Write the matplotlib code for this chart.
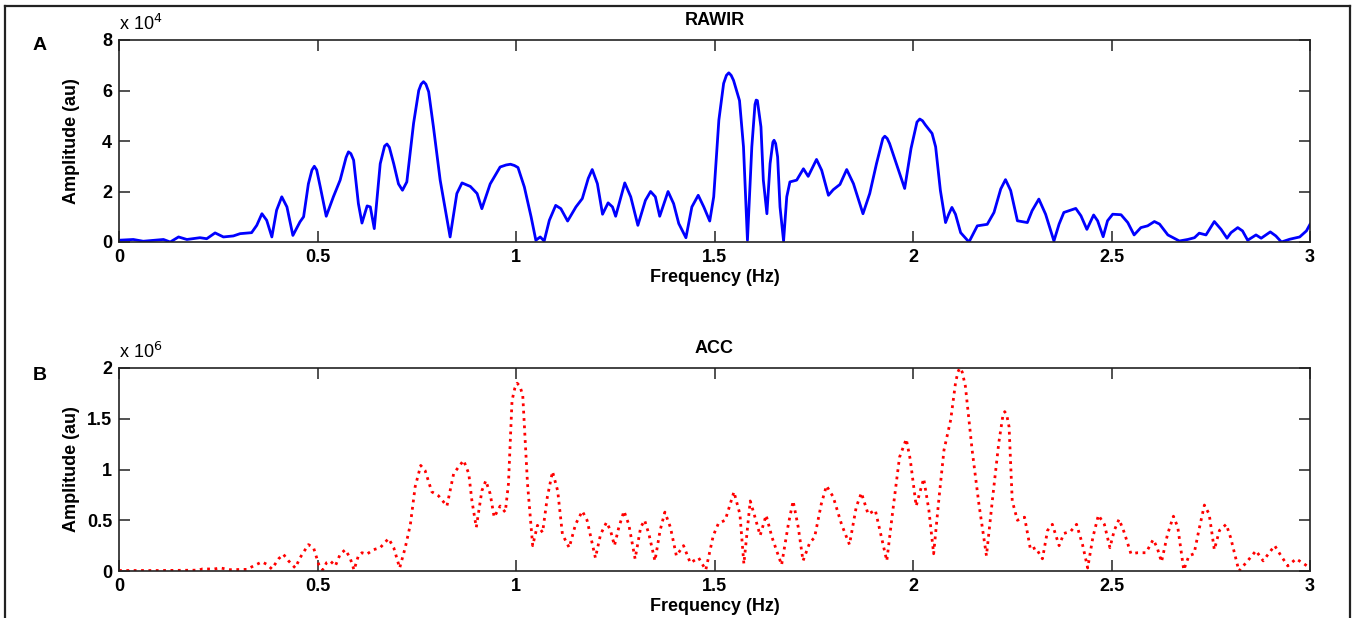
import matplotlib
matplotlib.use("Agg")
import matplotlib.pyplot as plt
from matplotlib.lines import Line2D

plt.rcParams['font.family'] = ['Liberation Sans', 'DejaVu Sans']

# RAWIR spectrum (frequency in Hz, amplitude in units of 1e4)
rawir_freq = [
    0.0, 0.036, 0.061, 0.112, 0.129, 0.15, 0.171, 0.204, 0.221, 0.242,
    0.263, 0.288, 0.305, 0.334, 0.347, 0.36, 0.372, 0.385, 0.397, 0.41,
    0.423, 0.438, 0.456, 0.465, 0.477, 0.486, 0.492, 0.498, 0.507, 0.522,
    0.54, 0.557, 0.572, 0.578, 0.584, 0.591, 0.603, 0.612, 0.625, 0.633,
    0.643, 0.658, 0.669, 0.675, 0.681, 0.692, 0.704, 0.714, 0.725, 0.742,
    0.755, 0.761, 0.767, 0.773, 0.78, 0.792, 0.809, 0.834, 0.851, 0.864,
    0.885, 0.902, 0.914, 0.935, 0.96, 0.975, 0.986, 0.996, 1.005, 1.021,
    1.038, 1.05, 1.061, 1.071, 1.084, 1.1, 1.113, 1.13, 1.151, 1.167,
    1.182, 1.192, 1.205, 1.218, 1.232, 1.243, 1.251, 1.274, 1.289, 1.307,
    1.326, 1.339, 1.351, 1.362, 1.383, 1.397, 1.41, 1.428, 1.443, 1.459,
    1.473, 1.488, 1.498, 1.511, 1.523, 1.53, 1.536, 1.542, 1.548, 1.563,
    1.573, 1.583, 1.594, 1.602, 1.605, 1.608, 1.617, 1.623, 1.632, 1.64,
    1.647, 1.65, 1.654, 1.659, 1.665, 1.674, 1.682, 1.69, 1.707, 1.724,
    1.736, 1.757, 1.77, 1.787, 1.799, 1.816, 1.833, 1.85, 1.874, 1.891,
    1.908, 1.924, 1.929, 1.935, 1.941, 1.958, 1.979, 1.995, 2.01, 2.017,
    2.024, 2.031, 2.048, 2.057, 2.069, 2.082, 2.09, 2.098, 2.107, 2.12,
    2.141, 2.162, 2.187, 2.204, 2.221, 2.233, 2.246, 2.263, 2.288, 2.3,
    2.317, 2.334, 2.355, 2.368, 2.38, 2.41, 2.423, 2.438, 2.455, 2.465,
    2.479, 2.49, 2.503, 2.524, 2.541, 2.557, 2.574, 2.591, 2.608, 2.621,
    2.642, 2.671, 2.692, 2.709, 2.721, 2.738, 2.759, 2.776, 2.791, 2.801,
    2.818, 2.83, 2.843, 2.864, 2.877, 2.9, 2.914, 2.928, 2.949, 2.974,
    2.991, 3.0,
]
rawir_amp = [
    0.07, 0.1, 0.03, 0.1, 0.0, 0.2, 0.1, 0.17, 0.13, 0.36,
    0.2, 0.24, 0.33, 0.37, 0.66, 1.12, 0.86, 0.2, 1.26, 1.79,
    1.39, 0.26, 0.8, 1.0, 2.3, 2.85, 3.0, 2.85, 2.18, 1.02,
    1.79, 2.45, 3.35, 3.57, 3.5, 3.24, 1.52, 0.75, 1.43, 1.39,
    0.53, 3.1, 3.8, 3.88, 3.75, 3.1, 2.3, 2.05, 2.38, 4.7,
    6.0, 6.25, 6.35, 6.25, 5.95, 4.56, 2.45, 0.2, 1.92, 2.34,
    2.2, 1.92, 1.32, 2.3, 2.97, 3.05, 3.08, 3.03, 2.95, 2.18,
    1.0, 0.07, 0.2, 0.04, 0.86, 1.45, 1.32, 0.83, 1.39, 1.72,
    2.52, 2.87, 2.31, 1.1, 1.55, 1.39, 1.02, 2.34, 1.79, 0.66,
    1.65, 2.0, 1.79, 1.02, 2.0, 1.52, 0.73, 0.17, 1.39, 1.85,
    1.39, 0.83, 1.79, 4.83, 6.28, 6.6, 6.7, 6.6, 6.4, 5.6,
    3.77, 0.07, 3.77, 5.45, 5.62, 5.6, 4.56, 2.45, 1.12, 3.1,
    3.95, 4.03, 3.9, 3.37, 1.39, 0.04, 1.79, 2.38, 2.45, 2.9,
    2.6, 3.27, 2.84, 1.85, 2.07, 2.28, 2.87, 2.31, 1.12, 1.92,
    3.1, 4.1, 4.19, 4.1, 3.9, 3.1, 2.12, 3.7, 4.75, 4.87,
    4.8, 4.64, 4.3, 3.77, 2.04, 0.77, 1.1, 1.37, 1.1, 0.37,
    0.0, 0.64, 0.7, 1.17, 2.1, 2.47, 2.04, 0.84, 0.77, 1.24,
    1.7, 1.1, 0.04, 0.71, 1.17, 1.33, 1.04, 0.5, 1.07, 0.84,
    0.21, 0.84, 1.1, 1.08, 0.77, 0.28, 0.57, 0.64, 0.81, 0.71,
    0.28, 0.04, 0.1, 0.17, 0.35, 0.28, 0.81, 0.5, 0.15, 0.37,
    0.57, 0.44, 0.07, 0.28, 0.15, 0.4, 0.24, 0.0, 0.11, 0.2,
    0.44, 0.7,
]

# ACC spectrum (frequency in Hz, amplitude in units of 1e6)
acc_freq = [
    0.0, 0.1, 0.2, 0.21, 0.24, 0.255, 0.28, 0.322, 0.339, 0.36,
    0.372, 0.385, 0.402, 0.414, 0.427, 0.444, 0.456, 0.477, 0.49, 0.503,
    0.513, 0.523, 0.532, 0.545, 0.557, 0.57, 0.582, 0.592, 0.603, 0.612,
    0.624, 0.641, 0.658, 0.679, 0.692, 0.707, 0.721, 0.734, 0.746, 0.76,
    0.771, 0.788, 0.805, 0.826, 0.843, 0.868, 0.881, 0.889, 0.9, 0.914,
    0.924, 0.935, 0.945, 0.96, 0.973, 0.981, 0.99, 0.997, 1.003, 1.01,
    1.017, 1.029, 1.042, 1.054, 1.067, 1.079, 1.092, 1.105, 1.117, 1.134,
    1.15, 1.167, 1.179, 1.2, 1.213, 1.228, 1.238, 1.248, 1.259, 1.272,
    1.284, 1.3, 1.314, 1.324, 1.335, 1.35, 1.363, 1.375, 1.389, 1.404,
    1.422, 1.439, 1.46, 1.478, 1.497, 1.51, 1.527, 1.549, 1.564, 1.574,
    1.59, 1.602, 1.615, 1.63, 1.645, 1.669, 1.686, 1.698, 1.711, 1.723,
    1.74, 1.752, 1.769, 1.782, 1.799, 1.82, 1.84, 1.857, 1.87, 1.887,
    1.905, 1.919, 1.934, 1.949, 1.966, 1.983, 1.993, 2.008, 2.019, 2.027,
    2.04, 2.052, 2.065, 2.078, 2.095, 2.107, 2.113, 2.118, 2.124, 2.132,
    2.149, 2.166, 2.185, 2.2, 2.216, 2.226, 2.231, 2.236, 2.242, 2.25,
    2.263, 2.281, 2.296, 2.309, 2.326, 2.339, 2.351, 2.368, 2.38, 2.397,
    2.412, 2.427, 2.44, 2.453, 2.467, 2.482, 2.496, 2.507, 2.519, 2.532,
    2.549, 2.566, 2.587, 2.605, 2.615, 2.626, 2.641, 2.656, 2.667, 2.682,
    2.695, 2.708, 2.72, 2.734, 2.746, 2.759, 2.772, 2.789, 2.8, 2.821,
    2.843, 2.864, 2.882, 2.911, 2.927, 2.944, 2.965, 2.985, 3.0,
]
acc_amp = [
    0.005, 0.005, 0.008, 0.02, 0.02, 0.03, 0.013, 0.016, 0.05, 0.09,
    0.066, 0.02, 0.12, 0.165, 0.1, 0.03, 0.13, 0.26, 0.23, 0.066,
    0.01, 0.083, 0.1, 0.05, 0.165, 0.21, 0.13, 0.01, 0.15, 0.18,
    0.165, 0.21, 0.23, 0.32, 0.23, 0.03, 0.23, 0.46, 0.83, 1.04,
    0.99, 0.78, 0.74, 0.64, 0.96, 1.09, 0.96, 0.69, 0.43, 0.79,
    0.89, 0.76, 0.53, 0.64, 0.58, 0.86, 1.68, 1.8, 1.85, 1.82,
    1.73, 0.86, 0.25, 0.45, 0.38, 0.73, 0.98, 0.79, 0.36, 0.23,
    0.46, 0.59, 0.5, 0.13, 0.36, 0.48, 0.4, 0.25, 0.43, 0.59,
    0.46, 0.12, 0.43, 0.5, 0.36, 0.1, 0.4, 0.58, 0.43, 0.15,
    0.25, 0.08, 0.13, 0.01, 0.35, 0.47, 0.5, 0.78, 0.56, 0.07,
    0.69, 0.53, 0.35, 0.55, 0.33, 0.06, 0.46, 0.69, 0.43, 0.1,
    0.28, 0.33, 0.66, 0.84, 0.73, 0.46, 0.26, 0.63, 0.77, 0.56,
    0.6, 0.36, 0.1, 0.59, 1.12, 1.3, 1.1, 0.64, 0.8, 0.91,
    0.6, 0.17, 0.7, 1.19, 1.49, 1.85, 1.96, 2.0, 1.96, 1.82,
    1.19, 0.66, 0.15, 0.7, 1.26, 1.52, 1.57, 1.54, 1.42, 0.69,
    0.5, 0.53, 0.21, 0.23, 0.12, 0.4, 0.46, 0.25, 0.37, 0.39,
    0.46, 0.26, 0.03, 0.33, 0.55, 0.46, 0.23, 0.4, 0.51, 0.38,
    0.17, 0.18, 0.18, 0.31, 0.23, 0.09, 0.36, 0.54, 0.43, 0.01,
    0.15, 0.17, 0.4, 0.65, 0.56, 0.21, 0.4, 0.46, 0.33, 0.0,
    0.1, 0.2, 0.1, 0.25, 0.15, 0.05, 0.12, 0.07, 0.03,
]

x_ticks = [0, 0.5, 1, 1.5, 2, 2.5, 3]
rawir_yticks = [0, 2, 4, 6, 8]
acc_yticks = [0, 0.5, 1, 1.5, 2]

W, H = 1354, 618
fig = plt.figure(figsize=(W / 100, H / 100), dpi=100)
fig.patch.set_facecolor('white')


def px_axes(left, top, right, bottom):
    return fig.add_axes([left / W, 1 - bottom / H, (right - left) / W, (bottom - top) / H])


def style_axes(ax, yticks, ymax):
    ax.set_xlim(0, 3)
    ax.set_ylim(0, ymax)
    ax.set_xticks(x_ticks)
    ax.set_xticklabels(['%g' % t for t in x_ticks])
    ax.set_yticks(yticks)
    ax.set_yticklabels(['%g' % t for t in yticks])
    ax.tick_params(direction='in', length=8, width=1.2, color='#333333',
                   top=True, right=True, labelsize=13, pad=5)
    for lab in ax.get_xticklabels() + ax.get_yticklabels():
        lab.set_fontweight('bold')
    for sp in ax.spines.values():
        sp.set_linewidth(1.2)
        sp.set_color('#222222')
    ax.set_xlabel('Frequency (Hz)', fontsize=13, fontweight='bold', labelpad=2)
    ax.set_ylabel('Amplitude (au)', fontsize=13, fontweight='bold')
    ax.yaxis.set_label_coords(-0.0325, 0.5)


ax1 = px_axes(119, 40, 1310, 242)
ax1.plot(rawir_freq, rawir_amp, color='#0000ff', linewidth=2.0, solid_joinstyle='round')
style_axes(ax1, rawir_yticks, 8)
ax1.set_title('RAWIR', fontsize=13, fontweight='bold', pad=11)
ax1.text(0.0, 1.03, r'x 10$^{4}$', transform=ax1.transAxes, fontsize=13,
         ha='left', va='bottom')

ax2 = px_axes(119, 368, 1310, 571)
ax2.plot(acc_freq, acc_amp, color='#ff0000', linewidth=2.0, linestyle=':')
style_axes(ax2, acc_yticks, 2)
ax2.set_title('ACC', fontsize=13, fontweight='bold', pad=11)
ax2.text(0.0, 1.03, r'x 10$^{6}$', transform=ax2.transAxes, fontsize=13,
         ha='left', va='bottom')

# panel letters
fig.text(40 / W, 1 - 45 / H, 'A', fontsize=14, fontweight='bold', ha='center', va='center')
fig.text(40 / W, 1 - 376 / H, 'B', fontsize=14, fontweight='bold', ha='center', va='center')

# outer frame around the figure (open at the bottom)
fx0, fx1, fy1 = 5 / W, 1350 / W, 1 - 6 / H
for xs, ys in [([fx0, fx0], [0, fy1]), ([fx0, fx1], [fy1, fy1]), ([fx1, fx1], [fy1, 0])]:
    fig.add_artist(Line2D(xs, ys, transform=fig.transFigure, color='#222222', linewidth=1.6))

fig.savefig('out.png', dpi=100)
